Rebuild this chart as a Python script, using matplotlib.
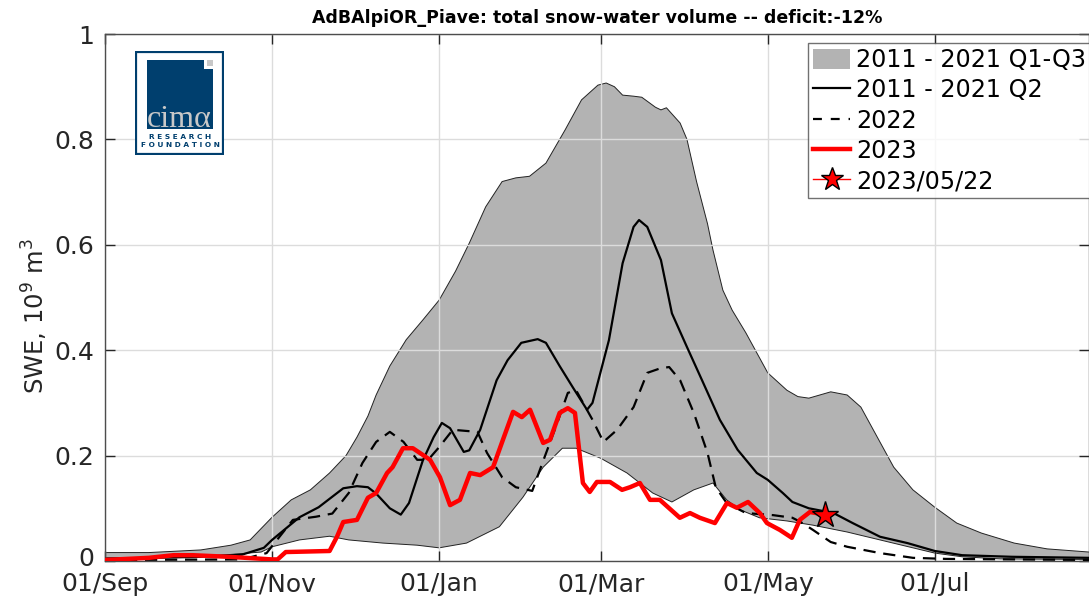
import numpy as np
import matplotlib
matplotlib.use("Agg")
import matplotlib.pyplot as plt
import matplotlib.transforms as mtransforms
from matplotlib.patches import Rectangle, Patch

# days counted from 01/Sep, values in 10^9 m^3
q3_days = [0, 16, 35, 46, 53, 61, 68, 75, 82, 88, 92, 96, 99, 104, 110, 116, 122, 128, 133, 139,
           145, 150, 155, 161, 168, 174, 180, 183, 186, 189, 193, 196, 201, 203, 205, 210, 212.5,
           216, 220, 222, 225.6, 229, 234, 242, 249, 253, 257, 265, 271, 276, 280, 288, 295, 303,
           311, 320, 332, 344, 359.3]
q3_vals = [0.016, 0.016, 0.021, 0.03, 0.04, 0.083, 0.116, 0.135, 0.167, 0.2, 0.235, 0.275, 0.315,
           0.37, 0.42, 0.457, 0.495, 0.55, 0.603, 0.672, 0.72, 0.727, 0.73, 0.755, 0.818, 0.875,
           0.903, 0.907, 0.9, 0.884, 0.882, 0.88, 0.861, 0.856, 0.86, 0.831, 0.8, 0.72, 0.64, 0.59,
           0.514, 0.476, 0.433, 0.357, 0.324, 0.312, 0.309, 0.321, 0.315, 0.292, 0.254, 0.178,
           0.135, 0.102, 0.072, 0.053, 0.034, 0.023, 0.017]

q1_days = [0, 35, 57, 61, 71, 82, 89, 101.5, 114, 122, 132, 144, 152.6, 160, 167, 172, 181, 190.6,
           200, 207, 215, 222, 227, 232, 239, 249, 258.5, 271, 283, 295, 303, 313, 327, 359.3]
q1_vals = [0.006, 0.008, 0.017, 0.027, 0.04, 0.047, 0.04, 0.034, 0.03, 0.025, 0.034, 0.065, 0.121,
           0.178, 0.214, 0.214, 0.195, 0.167, 0.129, 0.112, 0.135, 0.148, 0.116, 0.097, 0.082,
           0.076, 0.068, 0.055, 0.04, 0.025, 0.015, 0.008, 0.004, 0.003]

q2_days = [0, 35, 50, 58, 61, 71, 78, 87, 92, 96, 99, 104, 108, 111, 116, 120, 123, 126, 131, 133,
           137, 143, 147, 152, 158, 161, 166, 171, 176, 178, 184, 189, 193, 195, 198, 203, 207,
           212.5, 218, 224.5, 231, 238, 242, 247.5, 251, 257, 266, 273, 283, 293, 303, 313, 331,
           359.3]
q2_vals = [0.004, 0.008, 0.012, 0.025, 0.04, 0.083, 0.102, 0.138, 0.142, 0.14, 0.128, 0.1, 0.088,
           0.11, 0.19, 0.235, 0.262, 0.252, 0.207, 0.21, 0.249, 0.343, 0.381, 0.414, 0.421, 0.414,
           0.37, 0.328, 0.287, 0.3, 0.419, 0.565, 0.634, 0.647, 0.634, 0.571, 0.47, 0.406, 0.343,
           0.268, 0.211, 0.167, 0.154, 0.129, 0.112, 0.1, 0.091, 0.072, 0.046, 0.034, 0.019,
           0.011, 0.008, 0.006]

y2022_days = [0, 50, 59, 68.6, 77, 83, 89, 94, 99, 104, 109, 114, 118, 122, 127, 136, 139.5, 145,
              150, 156, 160, 165, 169, 172, 178, 182, 187, 193, 198, 203, 206, 210, 215, 220, 223,
              227, 234, 244, 251, 254, 258.5, 265, 271, 283, 295, 307, 359.3]
y2022_vals = [0.002, 0.003, 0.015, 0.078, 0.084, 0.09, 0.129, 0.186, 0.226, 0.245, 0.226, 0.192,
              0.192, 0.216, 0.249, 0.245, 0.205, 0.159, 0.14, 0.133, 0.19, 0.26, 0.319, 0.324,
              0.268, 0.226, 0.249, 0.292, 0.357, 0.366, 0.368, 0.343, 0.281, 0.205, 0.14, 0.11,
              0.091, 0.087, 0.082, 0.074, 0.059, 0.036, 0.027, 0.015, 0.006, 0.004, 0.002]

y2023_days = [0, 16, 25, 32, 45, 61, 63, 66, 82, 84.7, 87, 92, 96, 99, 103, 105, 108.8, 112.4,
              118.7, 122.3, 126, 129.6, 133.3, 137, 141.7, 145.3, 149, 152.2, 155.2, 160, 162.5,
              166, 169, 171.6, 174.5, 177, 179.6, 184.4, 188.8, 191.7, 195.3, 199, 202.6, 209.9,
              213.6, 217.2, 222.7, 227.1, 230.7, 234.8, 239.1, 241.7, 246.4, 250.8, 253.7, 257.4,
              262.9]
y2023_vals = [0.002, 0.006, 0.011, 0.011, 0.008, 0.003, 0.003, 0.017, 0.019, 0.046, 0.074, 0.078,
              0.12, 0.129, 0.167, 0.178, 0.214, 0.214, 0.192, 0.159, 0.106, 0.116, 0.167, 0.163,
              0.178, 0.23, 0.283, 0.273, 0.287, 0.224, 0.23, 0.281, 0.29, 0.281, 0.148, 0.131,
              0.15, 0.15, 0.135, 0.14, 0.148, 0.116, 0.116, 0.082, 0.091, 0.082, 0.072, 0.11,
              0.101, 0.112, 0.091, 0.072, 0.059, 0.044, 0.078, 0.093, 0.088]

star_day = 262.9
star_val = 0.088

tick_days = [0, 61, 122, 181, 242, 303]
tick_labels = ["01/Sep", "01/Nov", "01/Jan", "01/Mar", "01/May", "01/Jul"]

fig = plt.figure(figsize=(10.89, 6.0), dpi=100)
ax = fig.add_axes([105 / 1089, 39 / 600, 984 / 1089, 527 / 600])

band_x = q3_days + q1_days[::-1]
band_y = q3_vals + q1_vals[::-1]
ax.fill(band_x, band_y, color="#b3b3b3", lw=0, zorder=1)
ax.plot(q3_days, q3_vals, color="#222222", lw=0.7, zorder=1.2)
ax.plot(q1_days, q1_vals, color="#222222", lw=0.7, zorder=1.2)

ax.plot(q2_days, q2_vals, color="k", lw=1.6, zorder=3)
ax.plot(y2022_days, y2022_vals, color="k", lw=1.6, ls=(0, (5.5, 3.5)), zorder=3)
ax.plot(y2023_days, y2023_vals, color="#ff0000", lw=3.2, zorder=4)
ax.plot([star_day], [star_val], ls="-", color="#ff0000", lw=1, marker="*", ms=20,
        mfc="#ff0000", mec="k", mew=1, zorder=5)

ax.set_xlim(0, 359.3)
ax.set_ylim(0, 1)
ax.set_xticks(tick_days)
ax.set_xticklabels(tick_labels)
ax.set_yticks([0, 0.2, 0.4, 0.6, 0.8, 1])
ax.set_yticklabels(["0", "0.2", "0.4", "0.6", "0.8", "1"])
ax.set_axisbelow("line")
ax.grid(True, color="#dcdcdc", lw=1)
ax.tick_params(direction="in", length=7, width=1, colors="#262626", labelsize=18,
               top=True, right=True)
ax.tick_params(axis="x", pad=8)
ax.tick_params(axis="y", pad=8)
for s in ax.spines.values():
    s.set_color("#4d4d4d")
    s.set_linewidth(1)

# nudge the "0" label up a little so it clears "01/Sep"
zero_lab = ax.get_yticklabels()[0]
zero_lab.set_transform(zero_lab.get_transform() +
                       mtransforms.ScaledTranslation(0, 4 / 100, fig.dpi_scale_trans))

ax.set_ylabel("SWE, 10$^9$ m$^3$", fontsize=17.5, color="#262626")
ax.yaxis.set_label_coords(-0.056, 0.465)
ax.set_title("AdBAlpiOR_Piave: total snow-water volume -- deficit:-12%",
             fontsize=12.5, fontweight="bold", pad=8)

handles = [
    Patch(facecolor="#b3b3b3", edgecolor="none"),
    plt.Line2D([], [], color="k", lw=1.6),
    plt.Line2D([], [], color="k", lw=1.6, ls=(0, (4, 4))),
    plt.Line2D([], [], color="#ff0000", lw=3.2),
    plt.Line2D([], [], color="#ff0000", lw=1, marker="*", ms=17, mfc="#ff0000", mec="k"),
]
labels = ["2011 - 2021 Q1-Q3", "2011 - 2021 Q2", "2022", "2023", "2023/05/22"]
leg = fig.legend(handles, labels, loc="upper left", bbox_to_anchor=(808 / 1089, 1 - 43 / 600),
                 fontsize=17.2, frameon=True, fancybox=False, handlelength=1.55,
                 handleheight=0.9, handletextpad=0.25, borderpad=0.22, labelspacing=0.26,
                 borderaxespad=0)
leg.get_frame().set_edgecolor("#4d4d4d")
leg.get_frame().set_linewidth(1)

# logo
lg = fig.add_axes([135 / 1089, 1 - 155 / 600, 89 / 1089, 104 / 600])
lg.set_xlim(0, 1)
lg.set_ylim(0, 1)
lg.axis("off")
blue = "#003f6e"
lg.add_patch(Rectangle((0.01, 0.01), 0.98, 0.98, facecolor="white", edgecolor=blue, lw=1.6))
lg.add_patch(Rectangle((0.135, 0.25), 0.741, 0.663, facecolor=blue, lw=0))
lg.add_patch(Rectangle((0.77, 0.83), 0.106, 0.083, facecolor="white", lw=0))
lg.add_patch(Rectangle((0.81, 0.856), 0.066, 0.057, facecolor="#c8c8c8", lw=0))
lg.text(0.5, 0.27, "cimα", ha="center", va="baseline", fontsize=23, color="#c8c8c8",
        family="Liberation Serif")
lg.text(0.505, 0.15, "R E S E A R C H", ha="center", va="baseline", fontsize=5.3,
        color=blue, fontweight="bold")
lg.text(0.505, 0.08, "F O U N D A T I O N", ha="center", va="baseline", fontsize=5.3,
        color=blue, fontweight="bold")

fig.savefig("out.png", dpi=100)
